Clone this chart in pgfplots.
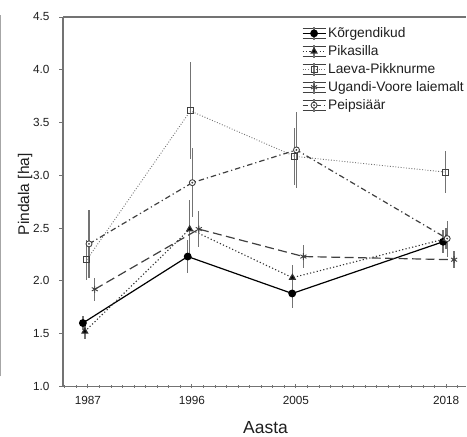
\documentclass[border=0pt]{standalone}
\usepackage{pgfplots}
\pgfplotsset{compat=1.18}
\usepackage{pgfplotstable}
\usepackage{fontspec}
\setmainfont{Liberation Sans}

\pgfdeclareplotmark{codot}{%
  \pgfpathcircle{\pgfpointorigin}{\pgfplotmarksize}\pgfusepathqfillstroke
  \pgfpathcircle{\pgfpointorigin}{0.4pt}\pgfusepathqstroke}

\definecolor{axgray}{gray}{0.45}
\definecolor{ebar}{gray}{0.45}
\definecolor{txt}{gray}{0.12}

\pgfplotsset{mylegend/.style={legend image code/.code={
    \draw[black!75, solid, line width=0.8bp] (0bp,5bp) -- (23bp,5bp);
    \draw[black!75, solid, line width=0.8bp] (0bp,-5bp) -- (23bp,-5bp);
    \draw[ebar, solid, line width=1.2bp] (11.5bp,-6.5bp) -- (11.5bp,6.5bp);
    \draw[mark repeat=2, mark phase=2, ##1] plot coordinates {(0bp,0bp) (11.5bp,0bp) (23bp,0bp)};
  }}}

\pgfplotstableread{
x y e
1986.57 1.60 0.07
1995.64 2.23 0.16
2004.68 1.88 0.14
2017.74 2.37 0.11
}\korg
\pgfplotstableread{
x y e
1986.74 1.52 0.07
1995.81 2.49 0.28
2004.70 2.03 0.12
2018.00 2.40 0.10
}\pika
\pgfplotstableread{
x y e
1986.91 2.20 0.19
1995.87 3.61 0.46
2004.88 3.18 0.27
2017.92 3.03 0.20
}\laeva
\pgfplotstableread{
x y e
1987.60 1.92 0.11
1996.60 2.49 0.17
2005.65 2.23 0.11
2018.69 2.20 0.08
}\ugandi
\pgfplotstableread{
x y e
1987.10 2.35 0.32
1996.04 2.93 0.33
2005.05 3.24 0.36
2018.09 2.40 0.17
}\peips

\begin{document}
\begin{tikzpicture}
\begin{axis}[
  scale only axis, width=404bp, height=370bp,
  xmin=1984.85, xmax=2019.75, ymin=1, ymax=4.5,
  axis x line=box, axis y line=left,
  axis line style={-, axgray, line width=1.3bp},
  xtick={1987,1996,2005,2018},
  xticklabels={1987,1996,2005,2018},
  minor xtick={1985,...,2019},
  ytick={1,1.5,2,2.5,3,3.5,4,4.5},
  yticklabels={1.0,1.5,2.0,2.5,3.0,3.5,4.0,4.5},
  xtick pos=bottom, ytick pos=left,
  xtick align=center, ytick align=outside,
  major tick length=4bp, minor tick length=3bp,
  tick style={axgray, line width=0.8bp},
  ticklabel style={font=\fontsize{11.8bp}{13bp}\selectfont, text=txt},
  yticklabel style={xshift=-6bp},
  xticklabel style={yshift=-4bp},
  xlabel={Aasta}, ylabel={Pindala [ha]},
  xlabel style={at={(rel axis cs:0.502,0)}, anchor=center, yshift=-41bp,
    font=\fontsize{17.5bp}{19bp}\selectfont, text=txt},
  ylabel style={at={(rel axis cs:-0.094,0.52)}, anchor=center,
    font=\fontsize{15.5bp}{17bp}\selectfont, text=txt},
  clip=false,
  error bars/y dir=both, error bars/y explicit,
  error bars/error mark=none,
  error bars/error bar style={ebar, line width=1.3bp, solid},
  legend style={at={(rel axis cs:0.592,0.977)}, anchor=north west,
    draw=none, fill=none, inner sep=0pt,
    font=\fontsize{13.8bp}{15bp}\selectfont, text=txt,
    row sep=2.5bp, cells={anchor=west}},
]
\addplot[black, line width=1.2bp, solid, mark=*, mark size=3.3bp, mark options={solid, fill=black}, mylegend]
  table[x=x, y=y, y error=e]{\korg};
\addlegendentry{Kõrgendikud}
\addplot[black!80, line width=1.1bp, dash pattern=on 1.2bp off 2.2bp, mark=triangle*, mark size=3.3bp, mark options={solid, fill=black}, mylegend]
  table[x=x, y=y, y error=e]{\pika};
\addlegendentry{Pikasilla}
\addplot[black!55, line width=0.9bp, dash pattern=on 0.9bp off 1.8bp, mark=square, mark size=3bp, mark options={solid, black!75, fill=white, line width=0.9bp}, mylegend]
  table[x=x, y=y, y error=e]{\laeva};
\addlegendentry{Laeva-Pikknurme}
\addplot[black!75, line width=1.2bp, dash pattern=on 9bp off 4.5bp, mark=asterisk, mark size=3.5bp, mark options={solid, black!75, line width=0.9bp}, mylegend]
  table[x=x, y=y, y error=e]{\ugandi};
\addlegendentry{Ugandi-Voore laiemalt}
\addplot[black!75, line width=1.2bp, dash pattern=on 5.5bp off 3bp on 1.2bp off 3bp, mark=codot, mark size=3bp, mark options={solid, black!75, fill=white, line width=0.9bp}, mylegend]
  table[x=x, y=y, y error=e]{\peips};
\addlegendentry{Peipsiäär}
\draw[gray!70, line width=1bp] (rel axis cs:-0.155,0.027) -- (rel axis cs:-0.155,1.005);
\path ([yshift=17bp]rel axis cs:0,1) -- (rel axis cs:0,1);
\end{axis}
\end{tikzpicture}
\end{document}
